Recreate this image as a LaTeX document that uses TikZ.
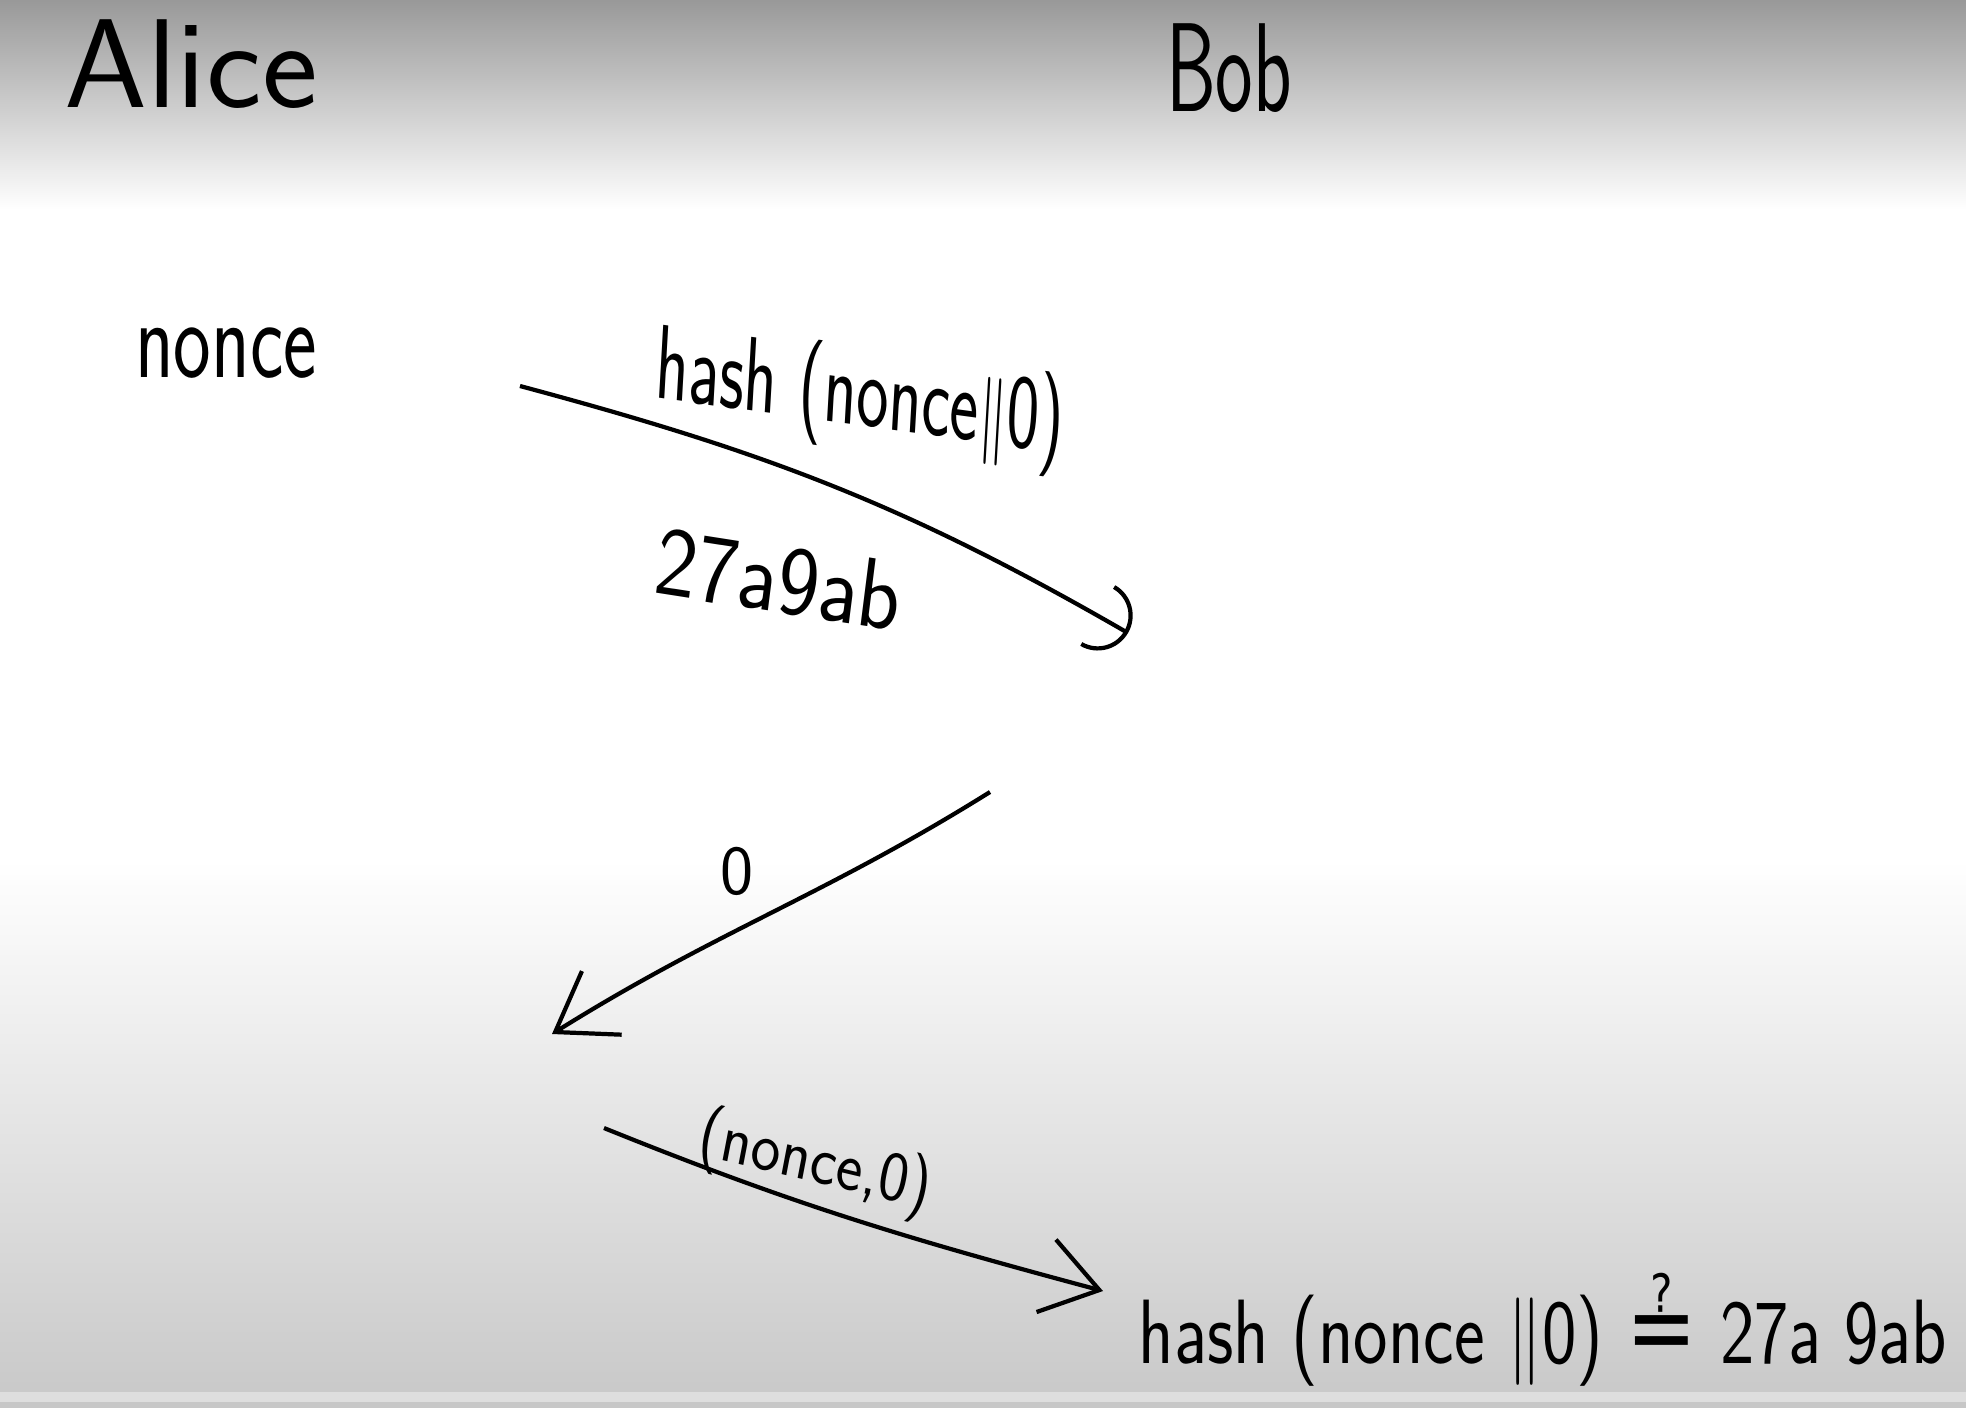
\documentclass[tikz,border=0pt]{standalone}
\usepackage{fontspec}
\newfontfamily\symfont{DejaVu Sans}
\usepackage{xcolor}
\usepackage{tikz}
\usetikzlibrary{arrows.meta,positioning}

\begin{document}
\begin{tikzpicture}
\tikzstyle{msgarrow}=[-{Straight Barb[length=5.5mm,width=7.5mm,line width=1.2pt]},line width=1.2pt];
\tikzstyle{hookarrow}=[-{Arc Barb[length=3.5mm,width=7mm,line width=1.2pt]},line width=1.2pt];
\tikzstyle{hand}=[inner sep=0pt,font=\sffamily];
\useasboundingbox (0,0) rectangle (19.66,-14.08);
\fill[white] (0,0) rectangle (19.66,-14.08);
\shade[top color=black!40,bottom color=white] (0,0) rectangle (19.66,-2.1);
\shade[top color=white,bottom color=black!21] (0,-8.6) rectangle (19.66,-13.92);
\fill[black!13] (0,-13.92) rectangle (19.66,-14.02);
\fill[black!22] (0,-14.02) rectangle (19.66,-14.08);
\node[hand,xscale=1.05,font=\sffamily\fontsize{36}{38}\selectfont](alice) at (1.91,-0.64){Alice};
\node[hand,xscale=0.63,font=\sffamily\fontsize{36}{38}\selectfont](bob) at (12.29,-0.68){Bob};
\node[hand,xscale=0.71,font=\sffamily\fontsize{32}{34}\selectfont](nonce) at (2.26,-3.53){nonce};
\node[hand,xscale=0.65,rotate=-5,font=\sffamily\fontsize{30}{32}\selectfont](commit) at (8.60,-3.99){hash (nonce$\|$0)};
\node[hand,xscale=0.9,rotate=-8,font=\sffamily\fontsize{28}{30}\selectfont](digest) at (7.79,-5.79){27a9ab};
\node[hand,font=\sffamily\fontsize{20}{22}\selectfont](bit) at (7.37,-8.71){0};
\node[hand,xscale=0.9,rotate=-12,font=\sffamily\fontsize{20}{22}\selectfont](reveal) at (8.15,-11.64){(nonce,0)};
\node[hand,xscale=0.80,font=\sffamily\fontsize{26}{28}\selectfont](check) at (15.43,-13.30){hash (nonce $\|$0) {\symfont\fontsize{30}{30}\selectfont ≟} 27a 9ab};
\coordinate (commitstart) at (5.20,-3.86);
\coordinate (commitend) at (11.28,-6.33);
\coordinate (bitstart) at (9.90,-7.92);
\coordinate (bitend) at (5.52,-10.34);
\coordinate (revealstart) at (6.04,-11.28);
\coordinate (revealend) at (11.03,-12.91);
\draw [hookarrow] (commitstart) to[out=-15,in=150] (commitend);
\draw [msgarrow] (bitstart) to[out=-148,in=32] (bitend);
\draw [msgarrow] (revealstart) to[out=-22,in=165] (revealend);
\end{tikzpicture}
\end{document}
